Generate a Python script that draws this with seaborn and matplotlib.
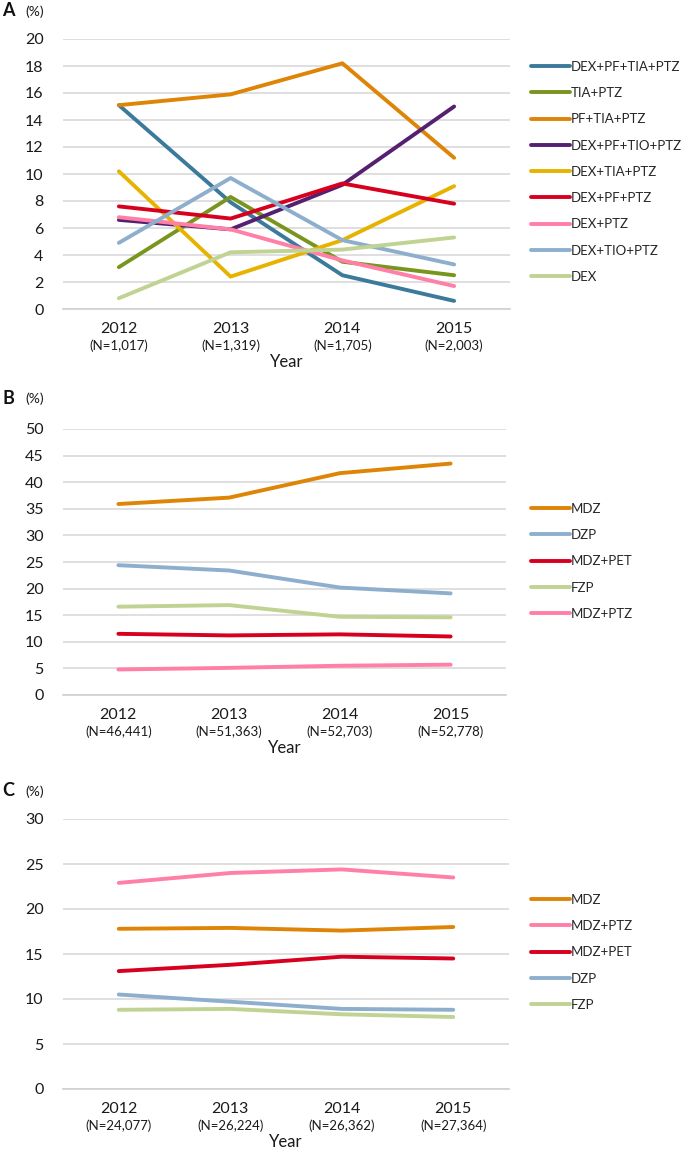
import numpy as np
import pandas as pd
import matplotlib
matplotlib.use("Agg")
import matplotlib.pyplot as plt
import seaborn as sns
from matplotlib.lines import Line2D
from matplotlib.transforms import blended_transform_factory

years = ["2012", "2013", "2014", "2015"]

# Panel A
a_n = ["(N=1,017)", "(N=1,319)", "(N=1,705)", "(N=2,003)"]
a_series = ["DEX+PF+TIA+PTZ", "TIA+PTZ", "PF+TIA+PTZ", "DEX+PF+TIO+PTZ",
            "DEX+TIA+PTZ", "DEX+PF+PTZ", "DEX+PTZ", "DEX+TIO+PTZ", "DEX"]
a_dex_pf_tia_ptz = [15.1, 7.9, 2.5, 0.6]
a_tia_ptz = [3.1, 8.3, 3.5, 2.5]
a_pf_tia_ptz = [15.1, 15.9, 18.2, 11.2]
a_dex_pf_tio_ptz = [6.6, 5.9, 9.2, 15.0]
a_dex_tia_ptz = [10.2, 2.4, 5.1, 9.1]
a_dex_pf_ptz = [7.6, 6.7, 9.3, 7.8]
a_dex_ptz = [6.8, 5.9, 3.6, 1.7]
a_dex_tio_ptz = [4.9, 9.7, 5.1, 3.3]
a_dex = [0.8, 4.2, 4.4, 5.3]
a_values = [a_dex_pf_tia_ptz, a_tia_ptz, a_pf_tia_ptz, a_dex_pf_tio_ptz,
            a_dex_tia_ptz, a_dex_pf_ptz, a_dex_ptz, a_dex_tio_ptz, a_dex]

# Panel B
b_n = ["(N=46,441)", "(N=51,363)", "(N=52,703)", "(N=52,778)"]
b_series = ["MDZ", "DZP", "MDZ+PET", "FZP", "MDZ+PTZ"]
b_mdz = [35.9, 37.1, 41.7, 43.5]
b_dzp = [24.4, 23.4, 20.2, 19.1]
b_mdz_pet = [11.5, 11.2, 11.4, 11.0]
b_fzp = [16.6, 16.9, 14.7, 14.6]
b_mdz_ptz = [4.8, 5.1, 5.5, 5.7]
b_values = [b_mdz, b_dzp, b_mdz_pet, b_fzp, b_mdz_ptz]

# Panel C
c_n = ["(N=24,077)", "(N=26,224)", "(N=26,362)", "(N=27,364)"]
c_series = ["MDZ", "MDZ+PTZ", "MDZ+PET", "DZP", "FZP"]
c_mdz = [17.8, 17.9, 17.6, 18.0]
c_mdz_ptz = [22.9, 24.0, 24.4, 23.5]
c_mdz_pet = [13.1, 13.8, 14.7, 14.5]
c_dzp = [10.5, 9.7, 8.9, 8.8]
c_fzp = [8.8, 8.9, 8.3, 8.0]
c_values = [c_mdz, c_mdz_ptz, c_mdz_pet, c_dzp, c_fzp]

colors = {
    "DEX+PF+TIA+PTZ": "#3C7A9C",
    "TIA+PTZ": "#7A951F",
    "PF+TIA+PTZ": "#DE8508",
    "DEX+PF+TIO+PTZ": "#55206F",
    "DEX+TIA+PTZ": "#E6B300",
    "DEX+PF+PTZ": "#D7001F",
    "DEX+PTZ": "#FF7FA7",
    "DEX+TIO+PTZ": "#8DAFCD",
    "DEX": "#C0D393",
    "MDZ": "#DE8508",
    "DZP": "#8DAFCD",
    "MDZ+PET": "#D7001F",
    "FZP": "#C0D393",
    "MDZ+PTZ": "#FF7FA7",
}

sns.set_theme(style="white")
plt.rcParams["font.family"] = ["Lato", "DejaVu Sans"]

fig = plt.figure(figsize=(6.85, 11.52), dpi=100)
W, H = 685, 1152
TXT = "#1a1a1a"


def px_axes(x0, x1, ytop, ybot):
    return fig.add_axes([x0 / W, 1 - ybot / H, (x1 - x0) / W, (ybot - ytop) / H])


def draw_panel(ax, series, values, ns, ymax, ystep, letter, letter_y, legend_first_y):
    rows = []
    for s, vals in zip(series, values):
        for i, v in enumerate(vals):
            rows.append({"x": i, "val": v, "series": s})
    df = pd.DataFrame(rows)
    sns.lineplot(data=df, x="x", y="val", hue="series", hue_order=series,
                 palette={s: colors[s] for s in series}, linewidth=2.8,
                 ax=ax, legend=False, sort=False)
    ax.set_xlim(-0.5, 3.5)
    ax.set_ylim(0, ymax)
    ticks = np.arange(0, ymax + 0.1, ystep)
    ax.set_yticks(ticks)
    ax.set_yticklabels([f"{int(t)}" for t in ticks], fontsize=11.5, color=TXT)
    ax.yaxis.grid(True, color="#D9D9D9", linewidth=1.2)
    ax.set_axisbelow(True)
    for sp in ["top", "right", "left"]:
        ax.spines[sp].set_visible(False)
    ax.spines["bottom"].set_color("#D0D0D0")
    ax.spines["bottom"].set_linewidth(1.2)
    ax.set_xticks([-0.5, 0.5, 1.5, 2.5, 3.5])
    ax.set_xticklabels([])
    ax.tick_params(axis="x", which="major", direction="out", length=5,
                   color="#D0D0D0", width=1.2)
    ax.tick_params(axis="y", length=0, pad=14)
    ax.set_xlabel("")
    ax.set_ylabel("")
    tr = blended_transform_factory(ax.transData, ax.transAxes)
    for i, (y, n) in enumerate(zip(years, ns)):
        ax.annotate(y, xy=(i, 0), xycoords=tr, xytext=(0, -14.4),
                    textcoords="offset points", ha="center", va="center",
                    fontsize=11.5, color=TXT)
        ax.annotate(n, xy=(i, 0), xycoords=tr, xytext=(0, -26.8),
                    textcoords="offset points", ha="center", va="center",
                    fontsize=9.5, color=TXT)
    ax.annotate("Year", xy=(1.5, 0), xycoords=tr, xytext=(0, -38.0),
                textcoords="offset points", ha="center", va="center",
                fontsize=12, color=TXT)
    fig.text(2 / W, 1 - letter_y / H, letter, fontsize=13, fontweight="bold",
             ha="left", va="center", color="#111111")
    fig.text(25 / W, 1 - (letter_y + 1) / H, "(%)", fontsize=10,
             ha="left", va="center", color=TXT)
    handles = [Line2D([0], [0], color=colors[s], linewidth=2.8) for s in series]
    fig.legend(handles, series, loc="upper left",
               bbox_to_anchor=(526 / W, 1 - (legend_first_y - 11.5) / H), frameon=False,
               fontsize=9.5, handlelength=2.9, handletextpad=0.1,
               labelspacing=1.08, borderaxespad=0, borderpad=0.4)


axA = px_axes(63, 510, 39, 309)
draw_panel(axA, a_series, a_values, a_n, 20, 2, "A", 11, 67)

axB = px_axes(63, 506, 429, 695)
draw_panel(axB, b_series, b_values, b_n, 50, 5, "B", 398, 509)

axC = px_axes(63, 509, 819, 1089)
draw_panel(axC, c_series, c_values, c_n, 30, 5, "C", 791, 900)

fig.savefig("out.png", dpi=100)
